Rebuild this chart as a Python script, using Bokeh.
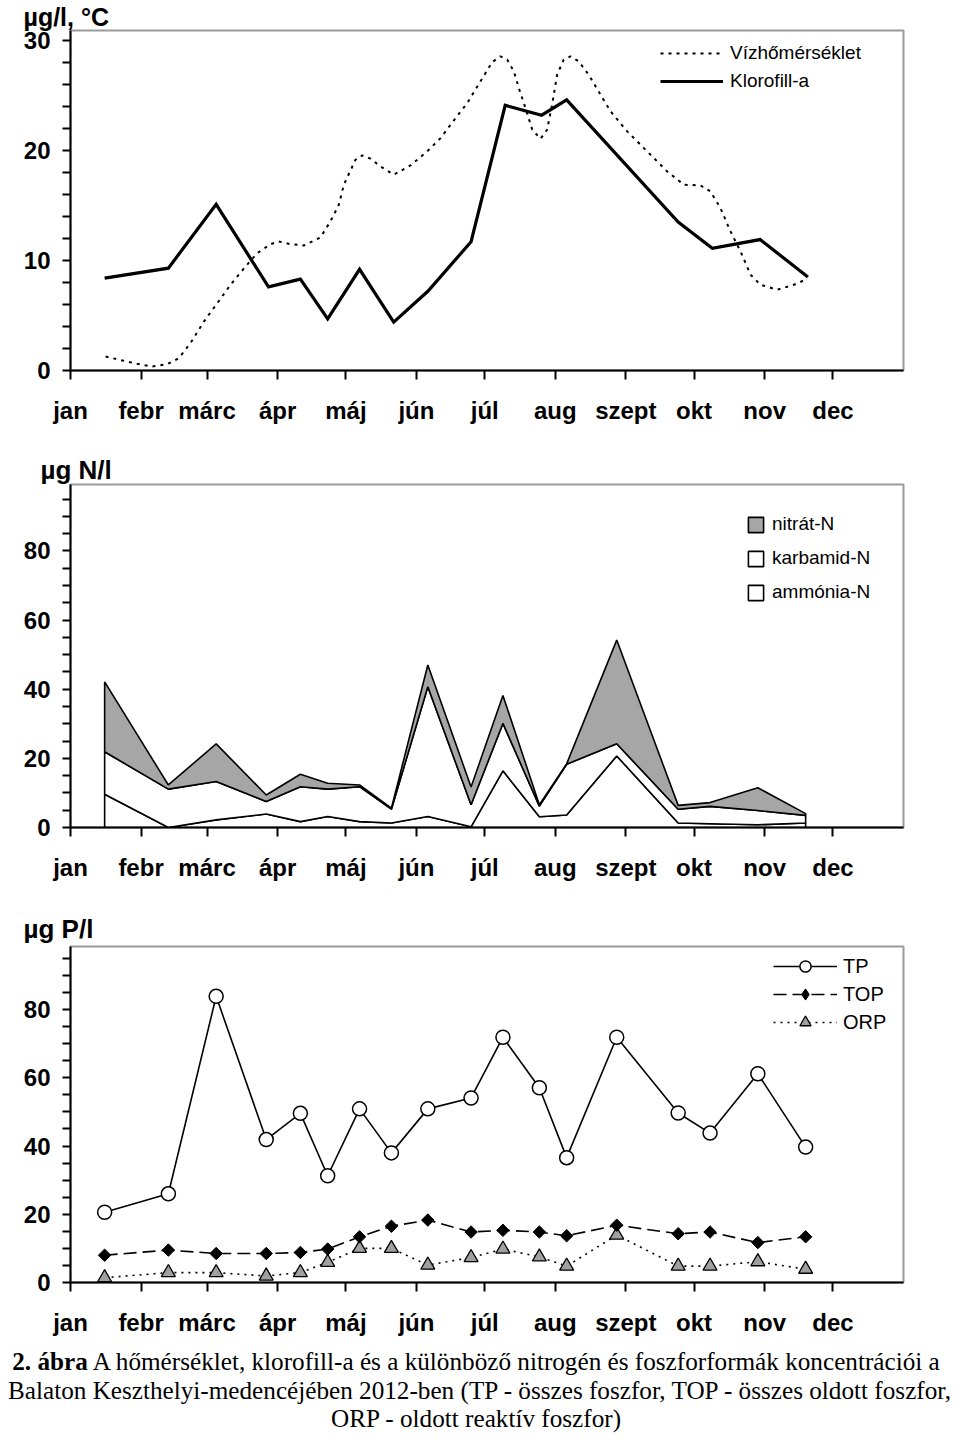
import numpy as np
from bokeh.plotting import figure
from bokeh.models import Range1d, FixedTicker, Legend, LegendItem, Div
from bokeh.layouts import column
from bokeh.embed import file_html
from bokeh.resources import INLINE

# ---------------- data ----------------
months = ["jan", "febr", "márc", "ápr", "máj", "jún", "júl", "aug", "szept", "okt", "nov", "dec"]
month_start_days = [0, 31, 60, 91, 121, 152, 182, 213, 244, 274, 305, 335]

# sampling days (day of year 2012)
sample_days = [15, 43, 64, 86, 101, 113, 127, 141, 157, 176, 190, 206, 218, 240, 267, 281, 302, 323]

# panel 1: chlorophyll-a (µg/l) and water temperature (°C)
chl_days = [15, 43, 64, 87, 101, 113, 127, 142, 157, 176, 191, 207, 218, 267, 282, 303, 324]
chl_a = [8.4, 9.3, 15.1, 7.6, 8.3, 4.7, 9.2, 4.4, 7.2, 11.7, 24.1, 23.2, 24.6, 13.5, 11.1, 11.9, 8.5]

temp_days = [15.4, 23.4, 29.3, 35.9, 42.5, 47.6, 52.7, 58.6, 64.5, 70.3, 76.9, 82.0, 87.9, 91.5,
             96.7, 102.5, 109.8, 114.2, 117.9, 120.1, 125.2, 128.2, 131.8, 136.2, 142.0, 149.4,
             156.7, 162.6, 169.2, 174.3, 180.1, 185.3, 188.9, 191.9, 194.8, 197.0, 199.9, 202.9,
             206.5, 209.4, 211.6, 213.8, 216.7, 219.7, 223.3, 227.7, 232.9, 237.3, 244.6, 253.4,
             262.2, 269.5, 276.8, 281.2, 285.6, 290.0, 294.4, 298.8, 303.2, 310.5, 317.8, 323.9]
water_temp = [1.27, 0.88, 0.61, 0.36, 0.57, 1.12, 2.48, 4.45, 6.12, 7.79, 9.45, 10.66, 11.48, 11.73,
              11.48, 11.36, 12.09, 13.55, 15.06, 16.88, 19.15, 19.55, 19.25, 18.55, 17.79, 18.64,
              19.91, 21.12, 22.94, 24.30, 26.27, 28.03, 28.55, 28.25, 27.18, 25.66, 23.85, 21.88,
              21.06, 21.88, 24.15, 26.88, 28.25, 28.55, 28.09, 26.88, 25.06, 23.55, 21.73, 19.91,
              18.09, 16.88, 16.82, 16.27, 14.75, 12.64, 10.82, 8.70, 7.79, 7.34, 7.79, 8.34]

# panel 2: nitrogen forms (µg N/l), stacked
ammonia_n = [9.6, 0.0, 2.2, 3.9, 1.7, 3.2, 1.7, 1.3, 3.2, 0.2, 16.4, 3.1, 3.6, 20.7, 1.3, 1.1, 0.8, 1.3]
karbamid_n = [12.3, 11.1, 11.1, 3.6, 10.1, 7.9, 10.1, 4.0, 37.5, 6.4, 13.7, 3.1, 14.7, 3.5, 4.0, 5.0, 4.1, 2.2]
nitrat_n = [20.2, 1.2, 10.9, 1.9, 3.6, 1.7, 0.5, 0.3, 6.3, 5.1, 8.1, 0.4, 0.1, 30.0, 1.1, 1.1, 6.6, 0.5]

# panel 3: phosphorus forms (µg P/l)
tp = [20.6, 26.0, 83.9, 41.9, 49.6, 31.3, 50.9, 38.0, 50.9, 54.1, 71.9, 57.1, 36.6, 71.9, 49.7, 43.8, 61.2, 39.7]
top_p = [8.0, 9.5, 8.5, 8.5, 8.8, 9.8, 13.4, 16.5, 18.3, 14.8, 15.3, 14.8, 13.7, 16.8, 14.3, 14.8, 11.7, 13.4]
orp = [1.4, 2.9, 2.9, 1.9, 2.9, 5.9, 10.0, 10.0, 5.1, 7.3, 9.8, 7.5, 4.8, 13.9, 4.8, 4.8, 6.1, 3.9]

caption_bold = "2. ábra"
caption_lines = [
    "A hőmérséklet, klorofill-a és a különböző nitrogén és foszforformák koncentrációi a",
    "Balaton Keszthelyi-medencéjében 2012-ben (TP - összes foszfor, TOP - összes oldott foszfor,",
    "ORP - oldott reaktív foszfor)",
]

FONT = "Liberation Sans"
SERIF = "Liberation Serif"
LEFT_B, FRAME_W, RIGHT_B = 70, 833, 41


def make_panel(ymax, major, minor, frame_h, top_b, bottom_b, title, t_offset, t_standoff, t_size):
    p = figure(frame_width=FRAME_W, frame_height=frame_h,
               x_range=Range1d(0, 366), y_range=Range1d(0, ymax),
               output_backend="svg", toolbar_location=None,
               min_border_left=LEFT_B, min_border_right=RIGHT_B,
               min_border_top=top_b, min_border_bottom=bottom_b,
               background_fill_color="white", border_fill_color="white")
    p.title.text = title
    p.title.align = "left"
    p.title.offset = t_offset
    p.title.standoff = t_standoff
    p.title.text_font = FONT
    p.title.text_font_size = t_size
    p.title.text_font_style = "bold"
    p.title.text_color = "black"
    p.grid.visible = False
    p.outline_line_color = "#9a9a9a"
    p.outline_line_width = 2

    xa = p.xaxis[0]
    xa.ticker = FixedTicker(ticks=month_start_days)
    xa.major_label_overrides = {d: m for d, m in zip(month_start_days, months)}
    xa.major_tick_out = 9
    xa.major_tick_in = 0
    xa.minor_tick_line_color = None
    xa.major_label_standoff = 17

    ya = p.yaxis[0]
    ya.ticker = FixedTicker(ticks=major, minor_ticks=minor)
    ya.major_tick_out = 8
    ya.major_tick_in = 0
    ya.minor_tick_out = 8
    ya.minor_tick_in = 0
    ya.major_label_standoff = 12

    for ax in (xa, ya):
        ax.axis_line_color = "black"
        ax.axis_line_width = 2
        ax.major_tick_line_color = "black"
        ax.major_tick_line_width = 2
        ax.minor_tick_line_width = 2
        ax.major_label_text_font = FONT
        ax.major_label_text_font_size = "24px"
        ax.major_label_text_font_style = "bold"
        ax.major_label_text_color = "black"
    ya.minor_tick_line_color = "black"
    return p


def style_legend(leg, font_size, gw, gh, standoff, spacing, lh):
    leg.padding = 0
    leg.margin = 0
    leg.border_line_color = None
    leg.background_fill_alpha = 0
    leg.label_text_font = FONT
    leg.label_text_font_size = font_size
    leg.label_text_color = "black"
    leg.glyph_width = gw
    leg.glyph_height = gh
    leg.label_standoff = standoff
    leg.spacing = spacing
    leg.label_height = lh


# ---------------- panel 1 ----------------
p1 = make_panel(30.9, [0, 10, 20, 30], [2, 4, 6, 8, 12, 14, 16, 18, 22, 24, 26, 28],
                340, 30, 72, "µg/l, °C", -47, 0, "25px")
r_temp = p1.line(temp_days, water_temp, line_color="black", line_width=2, line_dash="3 5")
r_chl = p1.line(chl_days, chl_a, line_color="black", line_width=3.2, line_join="miter")
leg1 = Legend(items=[LegendItem(label="Vízhőmérséklet", renderers=[r_temp]),
                     LegendItem(label="Klorofill-a", renderers=[r_chl])],
              location=(590, 277))
style_legend(leg1, "19px", 63, 24, 7, 4, 24)
p1.add_layout(leg1)

# ---------------- panel 2 ----------------
p2 = make_panel(99.2, [0, 20, 40, 60, 80], [5, 10, 15, 25, 30, 35, 45, 50, 55, 65, 70, 75, 85, 90, 95],
                343, 42, 73, "µg N/l", -30, 0, "26px")
c1 = np.array(ammonia_n)
c2 = c1 + np.array(karbamid_n)
c3 = c2 + np.array(nitrat_n)
xd = list(sample_days)
xpoly = xd + xd[::-1]
r_amm = p2.patch(xpoly, list(c1) + [0.0] * len(xd), fill_color="white", line_color="black", line_width=1.6)
r_kar = p2.patch(xpoly, list(c2) + list(c1[::-1]), fill_color="white", line_color="black", line_width=1.6)
r_nit = p2.patch(xpoly, list(c3) + list(c2[::-1]), fill_color="#a6a6a6", line_color="black", line_width=1.6)
leg2 = Legend(items=[LegendItem(label="nitrát-N", renderers=[r_nit]),
                     LegendItem(label="karbamid-N", renderers=[r_kar]),
                     LegendItem(label="ammónia-N", renderers=[r_amm])],
              location=(676, 224))
style_legend(leg2, "19px", 19, 19, 7, 12, 22)
p2.add_layout(leg2)

# ---------------- panel 3 ----------------
p3 = make_panel(98.5, [0, 20, 40, 60, 80], [5, 10, 15, 25, 30, 35, 45, 50, 55, 65, 70, 75, 85, 90, 95],
                336, 46, 58, "µg P/l", -47, 5, "26px")
l_tp = p3.line(sample_days, tp, line_color="black", line_width=1.6)
l_top = p3.line(sample_days, top_p, line_color="black", line_width=1.6, line_dash="13 6")
l_orp = p3.line(sample_days, orp, line_color="black", line_width=1.6, line_dash="2 5")
s_orp = p3.scatter(sample_days, orp, marker="triangle", size=14, fill_color="#a0a0a0",
                   line_color="black", line_width=1.3)
s_top = p3.scatter(sample_days, top_p, marker="square", angle=np.pi / 4, size=8.8,
                   fill_color="black", line_color="black", line_width=1)
s_tp = p3.scatter(sample_days, tp, marker="circle", size=14, fill_color="white",
                  line_color="black", line_width=1.5)
# legend key for TOP: same data on an off-screen range, so only the legend shows it
p3.extra_x_ranges = {"legend_key": Range1d(-1000, -999)}
s_top_key = p3.scatter(sample_days, top_p, x_range_name="legend_key", marker="diamond", size=16,
                       fill_color="black", line_color="black", line_width=1)
leg3 = Legend(items=[LegendItem(label="TP", renderers=[l_tp, s_tp]),
                     LegendItem(label="TOP", renderers=[l_top, s_top_key]),
                     LegendItem(label="ORP", renderers=[l_orp, s_orp])],
              location=(703, 246))
style_legend(leg3, "20px", 64, 28, 6, 0, 24)
p3.add_layout(leg3)

# ---------------- caption ----------------
cap_html = (
    "<div style=\"width:944px; box-sizing:border-box; padding-top:8px; padding-left:8px; "
    "font-family:'Liberation Serif','Times New Roman',serif; font-size:25.2px; line-height:28.5px; "
    "text-align:center; white-space:nowrap; color:black;\">"
    f"<b>{caption_bold}</b> {caption_lines[0]}<br>{caption_lines[1]}<br>{caption_lines[2]}</div>"
)
cap = Div(text=cap_html, width=944, height=88, margin=0)

layout = column(p1, p2, p3, cap, spacing=0)
open("out.html", "w").write(file_html(layout, INLINE))
